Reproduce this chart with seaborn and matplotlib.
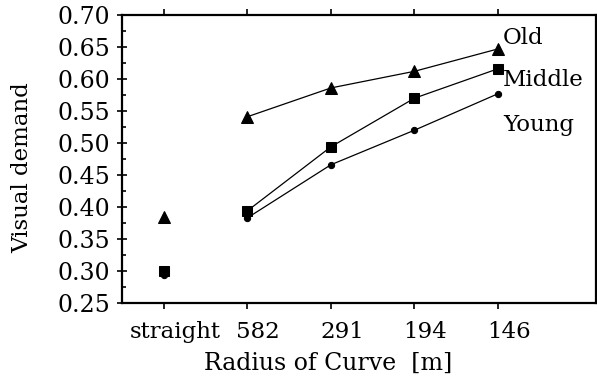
import numpy as np
import pandas as pd
import matplotlib
matplotlib.use('Agg')
import matplotlib.pyplot as plt
import matplotlib.transforms as mtransforms
from matplotlib.ticker import MultipleLocator
import seaborn as sns

# values
radius = ['straight', '582', '291', '194', '146']
old = [0.385, 0.541, 0.586, 0.612, 0.647]
middle = [0.300, 0.394, 0.494, 0.570, 0.616]
young = [0.294, 0.383, 0.466, 0.520, 0.577]
groups = ['Old', 'Middle', 'Young']

sns.set_style('ticks', {'axes.edgecolor': 'black', 'text.color': 'black',
                        'xtick.color': 'black', 'ytick.color': 'black',
                        'axes.labelcolor': 'black'})
plt.rcParams['font.family'] = ['DejaVu Serif']

pos = np.arange(len(radius))
df = pd.DataFrame({'pos': np.tile(pos, 3),
                   'demand': old + middle + young,
                   'group': np.repeat(groups, len(radius))})

fig = plt.figure(figsize=(5.97, 3.79), dpi=100)
ax = fig.add_axes([0.2044, 0.2005, 0.7936, 0.76])

styles = {'Old': ('^', 9), 'Middle': ('s', 6.5), 'Young': ('o', 4.5)}
for g in groups:
    d = df[df.group == g]
    mk, ms = styles[g]
    # curves (582 .. 146) are joined, straight road is a lone point
    sns.lineplot(data=d[d.pos > 0], x='pos', y='demand', ax=ax, color='black',
                 lw=0.9, marker=mk, markersize=ms, markeredgecolor='black')
    sns.lineplot(data=d[d.pos == 0], x='pos', y='demand', ax=ax, color='black',
                 lw=0, marker=mk, markersize=ms, markeredgecolor='black')
    last = d.iloc[-1]
    dy = {'Old': 0.017, 'Middle': -0.018, 'Young': -0.049}[g]
    ax.text(last.pos + 0.06, last.demand + dy, g, fontsize=16.5, va='center', ha='left')

ax.set_xlim(-0.5, 5.17)
ax.set_ylim(0.25, 0.70)
ax.set_xticks(pos)
ax.set_xticklabels(radius)
ax.yaxis.set_major_locator(MultipleLocator(0.05))
ax.yaxis.set_minor_locator(MultipleLocator(0.025))
ax.yaxis.set_major_formatter(matplotlib.ticker.FormatStrFormatter('%.2f'))

ax.tick_params(axis='x', which='major', direction='out', length=4, width=1.2,
               top=True, labelsize=16.5, pad=9)
ax.tick_params(axis='y', which='major', direction='inout', length=7, width=1.2,
               labelsize=17, pad=5)
ax.tick_params(axis='y', which='minor', direction='in', length=3, width=1.2)

# nudge x tick labels right like in the original
off = mtransforms.ScaledTranslation(11 / 100, 0, fig.dpi_scale_trans)
for lab in ax.get_xticklabels():
    lab.set_transform(lab.get_transform() + off)

for s in ax.spines.values():
    s.set_linewidth(1.6)

ax.set_xlabel('Radius of Curve  [m]', fontsize=17)
ax.set_ylabel('Visual demand', fontsize=16.5)
ax.xaxis.set_label_coords(0.435, -0.17)
ax.yaxis.set_label_coords(-0.188, 0.47)

fig.savefig('out.png', dpi=100)
